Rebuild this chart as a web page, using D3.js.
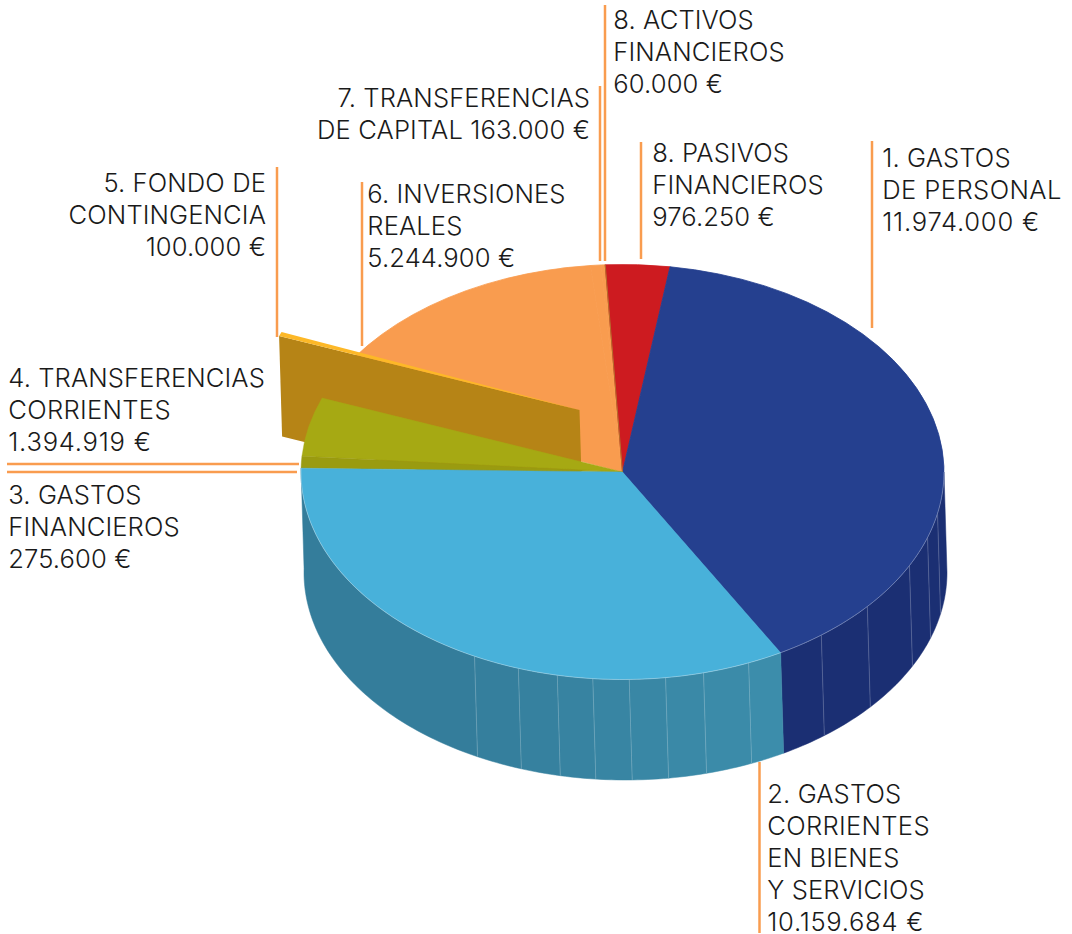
<!DOCTYPE html>
<html>
<head>
<meta charset="utf-8">
<script src="https://cdn.jsdelivr.net/npm/d3@7"></script>
<style>
  html, body { margin: 0; padding: 0; background: #fff; }
  text { font-family: "Inter", sans-serif; font-weight: 300; font-size: 25.6px; letter-spacing: 0.1px; fill: #1a1a1a; }
</style>
</head>
<body>
<script>
// budget items, in the order they run round the pie
var names = ["1. GASTOS DE PERSONAL", "2. GASTOS CORRIENTES EN BIENES Y SERVICIOS", "3. GASTOS FINANCIEROS",
    "4. TRANSFERENCIAS CORRIENTES", "5. FONDO DE CONTINGENCIA", "6. INVERSIONES REALES",
    "7. TRANSFERENCIAS DE CAPITAL", "8. ACTIVOS FINANCIEROS", "8. PASIVOS FINANCIEROS"];
var values = [11974000, 10159684, 275600, 1394919, 100000, 5244900, 163000, 60000, 976250];
var topColors = ["#25408f", "#48b1da", "#9a9b10", "#a6a913", "#fdb827", "#f99c4f", "#f99c4f", "#f99c4f", "#cd1b20"];

// label text, line by line
var labelLines = [
    ["1. GASTOS", "DE PERSONAL", "11.974.000 €"],
    ["2. GASTOS", "CORRIENTES", "EN BIENES", "Y SERVICIOS", "10.159.684 €"],
    ["3. GASTOS", "FINANCIEROS", "275.600 €"],
    ["4. TRANSFERENCIAS", "CORRIENTES", "1.394.919 €"],
    ["5. FONDO DE", "CONTINGENCIA", "100.000 €"],
    ["6. INVERSIONES", "REALES", "5.244.900 €"],
    ["7. TRANSFERENCIAS", "DE CAPITAL 163.000 €"],
    ["8. ACTIVOS", "FINANCIEROS", "60.000 €"],
    ["8. PASIVOS", "FINANCIEROS", "976.250 €"]
];

// where the rim of the side wall has a seam, degrees clockwise from the top
var seamAngles = [101.5, 108.4, 116.8, 130.4, 141.8, 156.9, 165.4, 172.3, 178.8, 185.3, 191.7, 198.9, 207.4];

// layout, same order as the arrays above
var labelX = [882.3, 767.3, 8.3, 8.3, 266, 367.3, 590, 613.3, 652.3];
var labelY = [167, 803, 504, 387, 192, 203, 107, 29, 162];
var labelAnchor = ["start", "start", "start", "start", "end", "start", "end", "start", "start"];
var leaders = [
    [872, 141, 872, 328], [759.5, 762, 759.5, 933], [7, 472, 297, 472], [7, 464, 299, 464],
    [277, 167, 277, 337], [362, 182, 362, 346], [600, 86, 600, 261], [605, 5, 605, 261], [641, 142, 641, 259]
];
// the ones in Inter are narrow, these lines need opening up a bit
var wideLines = { "11.974.000 €": 0.75, "10.159.684 €": 0.7, "1.394.919 €": 0.75, "DE PERSONAL": 0.4, "CORRIENTES": 0.3 };

var w = 1072, h = 934;
var cx = 622.5, cy = 472, rx = 321.5, ry = 207.5;
var depth = 100.5, lean = 3;
var explodedIndex = 4, explodeX = -43, explodeY = -62;
var lineColor = "#f99c4f";

var svg = d3.select("body").append("svg")
    .attr("width", w)
    .attr("height", h)
    .style("display", "block");

var rad = Math.PI / 180;
var pie = d3.pie().sort(null)
    .startAngle(8.5 * rad)
    .endAngle(368.5 * rad);
var slices = pie(values);

function px(a) { return cx + rx * Math.sin(a); }
function py(a) { return cy - ry * Math.cos(a); }

var arc = d3.arc().innerRadius(0).outerRadius(rx);
var rim = d3.line().x(function(d) { return d[0]; }).y(function(d) { return d[1]; });
var flatten = "translate(" + cx + "," + cy + ") scale(1," + (ry / rx) + ")";

// points along the rim between two angles
function rimPoints(a0, a1, dx, dy) {
    var n = Math.max(2, Math.ceil((a1 - a0) / (1 * rad)));
    return d3.range(n + 1).map(function(i) {
        var a = a0 + (a1 - a0) * i / n;
        return [px(a) + dx, py(a) + dy];
    });
}

function wall(a0, a1) {
    return rim(rimPoints(a0, a1, 0, 0).concat(rimPoints(a0, a1, lean, depth).reverse())) + "Z";
}

// the front of the side wall: dark blue, then the teal which gets lighter towards the right
var split = slices[0].endAngle;
var tealShade = d3.scaleLinear().domain([150, 215]).range(["#3c8dab", "#337b99"]).clamp(true);
var stops = [90 * rad].concat(seamAngles.map(function(d) { return d * rad; }), [split, slices[1].endAngle]).sort(d3.ascending);

svg.append("g").selectAll("path")
    .data(d3.pairs(stops))
    .enter().append("path")
    .attr("d", function(d) { return wall(d[0], d[1]); })
    .attr("fill", function(d) { return d[0] < split - 0.001 ? "#1b2f73" : tealShade(d[0] / rad); })
    .attr("stroke", function(d) { return d[0] < split - 0.001 ? "#1b2f73" : tealShade(d[0] / rad); })
    .attr("stroke-width", 0.5);

svg.append("g").selectAll("line")
    .data(seamAngles)
    .enter().append("line")
    .attr("x1", function(d) { return px(d * rad); })
    .attr("y1", function(d) { return py(d * rad); })
    .attr("x2", function(d) { return px(d * rad) + lean; })
    .attr("y2", function(d) { return py(d * rad) + depth; })
    .attr("stroke", "#ffffff")
    .attr("stroke-opacity", 0.2)
    .attr("stroke-width", 1);

// top face. back slices first so the pulled out sliver and its cut face sit over them
svg.append("g")
    .attr("transform", flatten)
    .selectAll("path")
    .data([5, 6, 7, 8, 0].map(function(i) { return slices[i]; }))
    .enter().append("path")
    .attr("d", arc)
    .attr("fill", function(d) { return topColors[d.index]; })
    .attr("stroke", function(d) { return topColors[d.index]; })
    .attr("stroke-width", 1);

// thin dark edge where the activos sliver meets the red slice
svg.append("line")
    .attr("x1", cx).attr("y1", cy)
    .attr("x2", px(slices[8].startAngle)).attr("y2", py(slices[8].startAngle))
    .attr("stroke", "#b5702c")
    .attr("stroke-width", 1);

// cut face of the pulled out slice
var ex = slices[explodedIndex];
var ax = cx + explodeX, ay = cy + explodeY;
svg.append("path")
    .attr("d", rim([
        [ax, ay],
        [px(ex.startAngle) + explodeX, py(ex.startAngle) + explodeY],
        [px(ex.startAngle) + explodeX + lean, py(ex.startAngle) + explodeY + depth],
        [ax + lean, ay + depth]
    ]) + "Z")
    .attr("fill", "#b68416");

svg.append("path")
    .attr("transform", "translate(" + ax + "," + ay + ") scale(1," + (ry / rx) + ")")
    .attr("d", arc(ex))
    .attr("fill", topColors[explodedIndex]);

// front slices go over the cut face
svg.append("g")
    .attr("transform", flatten)
    .selectAll("path")
    .data([slices[3], slices[2], slices[1]])
    .enter().append("path")
    .attr("d", arc)
    .attr("fill", function(d) { return topColors[d.index]; })
    .attr("stroke", function(d) { return topColors[d.index]; })
    .attr("stroke-width", 0.5);

// pale line along the front rim
svg.append("path")
    .attr("d", rim(rimPoints(90 * rad, slices[1].endAngle, 0, 0)))
    .attr("fill", "none")
    .attr("stroke", "#ffffff")
    .attr("stroke-opacity", 0.3)
    .attr("stroke-width", 1);

// leader lines
svg.append("g").selectAll("line")
    .data(leaders)
    .enter().append("line")
    .attr("x1", function(d) { return d[0]; })
    .attr("y1", function(d) { return d[1]; })
    .attr("x2", function(d) { return d[2]; })
    .attr("y2", function(d) { return d[3]; })
    .attr("stroke", lineColor)
    .attr("stroke-width", 2.5);

// labels
var label = svg.append("g").selectAll("text")
    .data(labelLines)
    .enter().append("text")
    .attr("text-anchor", function(d, i) { return labelAnchor[i]; });

label.selectAll("tspan")
    .data(function(d, i) { return d.map(function(t) { return { t: t, i: i }; }); })
    .enter().append("tspan")
    .attr("x", function(d) { return labelX[d.i]; })
    .attr("y", function(d, j) { return labelY[d.i] + j * 32; })
    .style("letter-spacing", function(d) { return wideLines[d.t] ? wideLines[d.t] + "px" : null; })
    .text(function(d) { return d.t; });
</script>
</body>
</html>
